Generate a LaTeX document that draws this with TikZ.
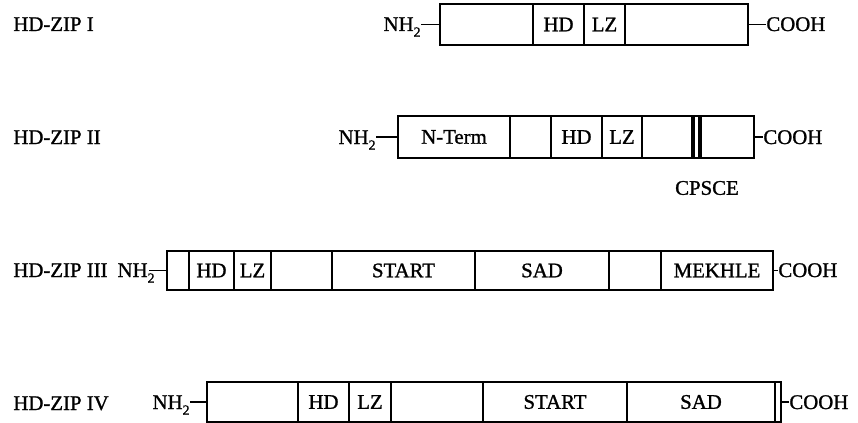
\documentclass[tikz,border=0pt]{standalone}
\usepackage{fontspec}
\setmainfont[FakeBold=1.2]{Liberation Serif}
\newcommand\segbox[6]{\node[seg, minimum width={(#3-#2)*0.5pt}, minimum height={#5*0.5pt}] (#1) at ({(#2+#3)/2},#4) {#6};}
\newcommand\nhtwo{NH\raisebox{-0.6ex}{\scriptsize 2}}
\tikzset{
  seg/.style={draw, line width=0.9pt, inner sep=0pt, outer sep=0pt, font=\fontsize{10.4}{12}\selectfont},
  lbl/.style={inner sep=0pt, font=\fontsize{10.4}{12}\selectfont},
  conn/.style={line width=0.9pt}
}
\begin{document}
\begin{tikzpicture}[x=0.5pt,y=-0.5pt]
\useasboundingbox (0,0) rectangle (858,423);
% Row I
\node[lbl, anchor=base west] (l1) at (13,31) {HD-ZIP I};
\segbox{a1}{440}{533}{24.5}{41}{}
\segbox{a2}{533}{584}{24.5}{41}{HD}
\segbox{a3}{584}{625}{24.5}{41}{LZ}
\segbox{a4}{625}{748}{24.5}{41}{}
\node[lbl, anchor=base east] (n1) at (421,31) {\nhtwo};
\node[lbl, anchor=base west] (c1) at (766,31) {COOH};
\draw[conn] (a1.west) -- (a1.west -| n1.east);
\draw[conn] (a4.east) -- (a4.east -| c1.west);
% Row II
\node[lbl, anchor=base west] (l2) at (13,144) {HD-ZIP II};
\segbox{b1}{398}{510}{137}{42}{N-Term}
\segbox{b2}{510}{551}{137}{42}{}
\segbox{b3}{551}{602}{137}{42}{HD}
\segbox{b4}{602}{642}{137}{42}{LZ}
\segbox{b5}{642}{693}{137}{42}{}
\segbox{b6}{693}{700}{137}{42}{}
\segbox{b7}{700}{754}{137}{42}{}
\draw[line width=1.6pt] (b6.north west) -- (b6.south west);
\draw[line width=1.6pt] (b6.north east) -- (b6.south east);
\node[lbl, anchor=base east] (n2) at (376,144) {\nhtwo};
\node[lbl, anchor=base west] (c2) at (763,144) {COOH};
\node[lbl] (cp) at (707,188) {CPSCE};
\draw[conn] (b1.west) -- (b1.west -| n2.east);
\draw[conn] (b7.east) -- (b7.east -| c2.west);
% Row III
\node[lbl, anchor=base west] (l3) at (13,277) {HD-ZIP III};
\segbox{d1}{167}{189}{270.5}{39}{}
\segbox{d2}{189}{234}{270.5}{39}{HD}
\segbox{d3}{234}{271}{270.5}{39}{LZ}
\segbox{d4}{271}{332}{270.5}{39}{}
\segbox{d5}{332}{475}{270.5}{39}{START}
\segbox{d6}{475}{609}{270.5}{39}{SAD}
\segbox{d7}{609}{661}{270.5}{39}{}
\segbox{d8}{661}{773}{270.5}{39}{MEKHLE}
\node[lbl, anchor=base east] (n3) at (155,277) {\nhtwo};
\node[lbl, anchor=base west] (c3) at (778,277) {COOH};
\draw[conn] (d1.west) -- ([xshift=-3pt]d1.west -| n3.east);
\draw[conn] (d8.east) -- (d8.east -| c3.west);
% Row IV
\node[lbl, anchor=base west] (l4) at (13,410) {HD-ZIP IV};
\segbox{e1}{207}{298}{402}{40}{}
\segbox{e2}{298}{349}{402}{40}{HD}
\segbox{e3}{349}{391}{402}{40}{LZ}
\segbox{e4}{391}{483}{402}{40}{}
\segbox{e5}{483}{627}{402}{40}{START}
\segbox{e6}{627}{775}{402}{40}{SAD}
\segbox{e7}{775}{781}{402}{40}{}
\node[lbl, anchor=base east] (n4) at (190,409) {\nhtwo};
\node[lbl, anchor=base west] (c4) at (789,409) {COOH};
\draw[conn] (e1.west) -- (e1.west -| n4.east);
\draw[conn] (e7.east) -- (e7.east -| c4.west);
\end{tikzpicture}
\end{document}
